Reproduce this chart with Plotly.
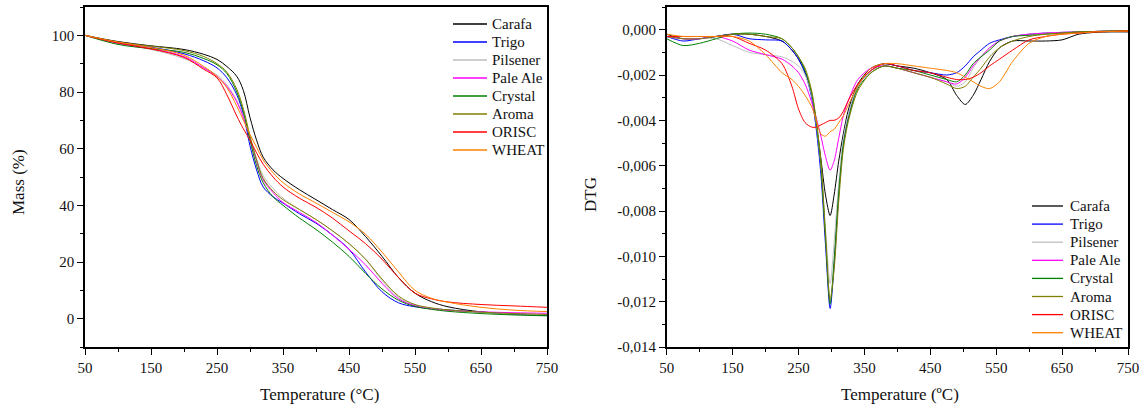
import plotly.graph_objects as go

# ---- series ----
series_names = ["Carafa", "Trigo", "Pilsener", "Pale Ale", "Crystal", "Aroma", "ORISC", "WHEAT"]
series_colors = ["#000000", "#0000FF", "#BEBEBE", "#FF00FF", "#008000", "#808000", "#FF0000", "#FF8000"]

# ---- TGA: mass (%) vs temperature (°C) ----
temp_tga = [50, 100, 150, 200, 230, 250, 265, 280, 290, 300, 310, 320, 335, 350, 375,
            400, 425, 450, 475, 500, 525, 550, 575, 600, 650, 700, 750]
mass_carafa = [100, 97.8, 96.3, 95.0, 93.3, 91.5, 89.0, 85.5, 80.5, 71.0, 63.0, 57.0, 52.5, 49.5, 45.5,
               42.0, 38.5, 35.0, 29.0, 22.0, 14.5, 9.0, 6.0, 4.2, 2.4, 1.6, 1.2]
mass_trigo = [100, 97.3, 95.8, 93.5, 91.0, 88.5, 85.0, 79.0, 72.0, 61.0, 52.5, 46.5, 43.0, 40.8, 37.0,
              33.7, 29.5, 24.5, 16.5, 9.5, 5.6, 4.2, 3.6, 3.1, 2.3, 1.7, 1.3]
mass_pilsener = [100, 97.0, 95.0, 91.8, 88.5, 86.0, 82.5, 77.0, 71.5, 64.0, 56.5, 50.5, 46.0, 42.5, 38.5,
                 35.0, 31.0, 26.5, 21.0, 13.5, 7.5, 4.8, 3.6, 3.0, 2.2, 1.7, 1.4]
mass_pale_ale = [100, 97.2, 95.3, 92.5, 88.5, 85.5, 82.0, 76.5, 71.0, 63.5, 55.5, 49.0, 44.5, 41.0, 37.5,
                 34.0, 29.5, 24.5, 19.0, 12.5, 7.0, 4.6, 3.4, 2.9, 2.4, 2.1, 1.9]
mass_crystal = [100, 96.8, 95.3, 94.0, 91.8, 89.6, 86.5, 80.0, 73.0, 63.0, 54.0, 48.0, 43.0, 40.0, 35.5,
                31.5, 27.0, 22.0, 16.0, 10.5, 6.5, 4.3, 3.3, 2.6, 1.8, 1.3, 1.0]
mass_aroma = [100, 97.6, 96.2, 94.6, 92.5, 90.0, 87.0, 81.0, 74.0, 64.5, 56.0, 49.5, 45.0, 42.0, 38.5,
              35.0, 31.0, 26.5, 21.0, 14.0, 8.0, 5.0, 3.8, 3.1, 2.3, 1.8, 1.5]
mass_orisc = [100, 97.3, 95.2, 92.2, 88.0, 85.0, 79.0, 71.5, 67.0, 63.0, 58.5, 54.5, 50.0, 46.5, 42.5,
              39.3, 35.5, 31.0, 26.5, 21.0, 14.5, 9.0, 7.0, 5.9, 5.0, 4.5, 4.0]
mass_wheat = [100, 97.6, 95.7, 93.0, 89.0, 85.5, 81.5, 75.0, 70.0, 65.0, 60.5, 56.0, 51.5, 48.0, 44.0,
              40.8, 37.5, 34.2, 29.8, 23.5, 16.5, 10.0, 7.2, 5.8, 4.0, 3.0, 2.5]

# ---- DTG vs temperature (°C) ----
temp_dtg = [50, 75, 100, 125, 150, 175, 200, 225, 240, 250, 260, 270, 277, 284, 291, 298, 304, 311,
            318, 326, 340, 360, 380, 400, 425, 450, 475, 490, 503, 515, 527, 540, 555, 575, 600,
            625, 650, 675, 700, 725, 750]
dtg_carafa = [-0.0002, -0.0004, -0.0004, -0.0003, -0.0002, -0.0002, -0.0003, -0.0005, -0.0009, -0.0013,
              -0.0019, -0.0029, -0.0042, -0.0057, -0.0073, -0.0082, -0.0073, -0.0058, -0.0046, -0.0035,
              -0.0024, -0.0017, -0.0015, -0.0016, -0.0017, -0.0019, -0.0022, -0.0029, -0.0033, -0.0029,
              -0.0022, -0.0014, -0.0008, -0.0005, -0.0005, -0.0005, -0.00045, -0.0002, -0.00012, -0.0001,
              -0.0001]
dtg_trigo = [-0.0003, -0.0005, -0.0004, -0.0003, -0.0002, -0.0004, -0.00045, -0.0005, -0.0009, -0.0013,
             -0.0019, -0.0030, -0.0044, -0.0064, -0.0095, -0.0123, -0.0104, -0.0073, -0.0050, -0.0038,
             -0.0025, -0.0018, -0.0015, -0.0016, -0.0018, -0.0019, -0.0020, -0.0019, -0.0016, -0.0012,
             -0.0009, -0.0006, -0.00045, -0.0003, -0.0002, -0.00015, -0.00012, -0.0001, -0.00008, -0.00006,
             -0.00005]
dtg_pilsener = [-0.0003, -0.0004, -0.0004, -0.0004, -0.0007, -0.0010, -0.0011, -0.0012, -0.0014, -0.0016,
                -0.0020, -0.0029, -0.0042, -0.0060, -0.0088, -0.0112, -0.0094, -0.0068, -0.0048, -0.0037,
                -0.0025, -0.0018, -0.0016, -0.0017, -0.0019, -0.0021, -0.0023, -0.0025, -0.0023, -0.0017,
                -0.0012, -0.0008, -0.0005, -0.0003, -0.0002, -0.00015, -0.00012, -0.0001, -0.00008, -0.00006,
                -0.00005]
dtg_pale_ale = [-0.0003, -0.0004, -0.0004, -0.0003, -0.0005, -0.0009, -0.0011, -0.0013, -0.0016, -0.0019,
                -0.0024, -0.0032, -0.0039, -0.0047, -0.0056, -0.0062, -0.0058, -0.0048, -0.0038, -0.0031,
                -0.0022, -0.0017, -0.0016, -0.0017, -0.0019, -0.0021, -0.0023, -0.0024, -0.0021, -0.0016,
                -0.0012, -0.0008, -0.0005, -0.0003, -0.0002, -0.00015, -0.00012, -0.0001, -0.00008, -0.00006,
                -0.00005]
dtg_crystal = [-0.0004, -0.0007, -0.0006, -0.0004, -0.0002, -0.00015, -0.0002, -0.0004, -0.0008, -0.0012,
               -0.0018, -0.0028, -0.0041, -0.0060, -0.0092, -0.0121, -0.0102, -0.0072, -0.0051, -0.0039,
               -0.0026, -0.0019, -0.0016, -0.0017, -0.0018, -0.0020, -0.0022, -0.0023, -0.0020, -0.0015,
               -0.0012, -0.0009, -0.0005, -0.0003, -0.00025, -0.0002, -0.00015, -0.0001, -0.00008, -0.00006,
               -0.00005]
dtg_aroma = [-0.0003, -0.0004, -0.0004, -0.0003, -0.0002, -0.0002, -0.0003, -0.0004, -0.0008, -0.0012,
             -0.0017, -0.0027, -0.0040, -0.0058, -0.0090, -0.0119, -0.0106, -0.0076, -0.0053, -0.0040,
             -0.0027, -0.0019, -0.0016, -0.0017, -0.0019, -0.0021, -0.0024, -0.0026, -0.0025, -0.0021,
             -0.0017, -0.0012, -0.0008, -0.0005, -0.0003, -0.0002, -0.00015, -0.0001, -0.00008, -0.00006,
             -0.00005]
dtg_orisc = [-0.0003, -0.0003, -0.0003, -0.0003, -0.0003, -0.0006, -0.0009, -0.0015, -0.0025, -0.0035,
             -0.0041, -0.0043, -0.0043, -0.0042, -0.0041, -0.0040, -0.0040, -0.0039, -0.0036, -0.0031,
             -0.0024, -0.0018, -0.0015, -0.0016, -0.0018, -0.0019, -0.0021, -0.0022, -0.0022, -0.0021,
             -0.0019, -0.0016, -0.0013, -0.0009, -0.00045, -0.0003, -0.0002, -0.00015, -0.0001, -0.00008,
             -0.00006]
dtg_wheat = [-0.0002, -0.0003, -0.0003, -0.0003, -0.0003, -0.0005, -0.0011, -0.0019, -0.0022, -0.0025,
             -0.0029, -0.0034, -0.0040, -0.0046, -0.0047, -0.0045, -0.0044, -0.0041, -0.0038, -0.0033,
             -0.0025, -0.0017, -0.0015, -0.0015, -0.0016, -0.0017, -0.0018, -0.0019, -0.0021, -0.0023,
             -0.0025, -0.0026, -0.0023, -0.0014, -0.0006, -0.0003, -0.0002, -0.00015, -0.0001, -0.00008,
             -0.00006]

# ---- tick labels ----
temp_ticks = [50, 150, 250, 350, 450, 550, 650, 750]
mass_ticks = [0, 20, 40, 60, 80, 100]
dtg_tickvals = [0.0, -0.002, -0.004, -0.006, -0.008, -0.010, -0.012, -0.014]
dtg_ticktext = ["0,000", "-0,002", "-0,004", "-0,006", "-0,008", "-0,010", "-0,012", "-0,014"]

mass_series = [mass_carafa, mass_trigo, mass_pilsener, mass_pale_ale,
               mass_crystal, mass_aroma, mass_orisc, mass_wheat]
dtg_series = [dtg_carafa, dtg_trigo, dtg_pilsener, dtg_pale_ale,
              dtg_crystal, dtg_aroma, dtg_orisc, dtg_wheat]

W, H = 1142, 407
FONT = "Liberation Serif"
INK = "#111111"

fig = go.Figure()

for name, color, ys in zip(series_names, series_colors, mass_series):
    fig.add_trace(go.Scatter(
        x=temp_tga, y=ys, name=name, mode="lines", showlegend=False,
        line=dict(color=color, width=1, shape="spline", smoothing=1.0),
        xaxis="x", yaxis="y"))

for name, color, ys in zip(series_names, series_colors, dtg_series):
    fig.add_trace(go.Scatter(
        x=temp_dtg, y=ys, name=name, mode="lines", showlegend=False,
        line=dict(color=color, width=1, shape="spline", smoothing=0.8),
        xaxis="x2", yaxis="y2"))


# pixel -> paper helpers
def px(x):
    return x / W


def py(y):
    return 1 - y / H


axis_common = dict(
    showline=True, linecolor="black", linewidth=1.5, mirror=True,
    ticks="outside", ticklen=6, tickwidth=1.2, tickcolor="black",
    showgrid=False, zeroline=False, automargin=False,
    tickfont=dict(family=FONT, size=15, color=INK),
)
minor_common = dict(ticklen=3, tickwidth=1.2, tickcolor="black", ticks="outside")

annotations = [
    dict(text="Mass (%)", x=px(18), y=py(182), textangle=-90),
    dict(text="Temperature (°C)", x=px(319), y=py(394)),
    dict(text="DTG", x=px(590), y=py(195), textangle=-90),
    dict(text="Temperature (ºC)", x=px(900), y=py(394)),
]
for a in annotations:
    a.update(xref="paper", yref="paper", showarrow=False, xanchor="center", yanchor="middle",
             font=dict(family=FONT, size=17, color=INK))

# in-plot legends: a short line sample followed by the series name
shapes = []
legend_blocks = [
    dict(x0=453, x1=487, xt=490, y0=24, dy=18.0),    # TGA panel, upper right
    dict(x0=1032, x1=1063, xt=1068, y0=206, dy=18.1),  # DTG panel, lower right
]
for blk in legend_blocks:
    for i, (name, color) in enumerate(zip(series_names, series_colors)):
        yy = blk["y0"] + i * blk["dy"]
        shapes.append(dict(type="line", xref="paper", yref="paper",
                           x0=px(blk["x0"]), x1=px(blk["x1"]), y0=py(yy), y1=py(yy),
                           line=dict(color=color, width=1.3)))
        annotations.append(dict(text=name, x=px(blk["xt"]), y=py(yy), xref="paper", yref="paper",
                                showarrow=False, xanchor="left", yanchor="middle",
                                font=dict(family=FONT, size=15, color=INK)))

fig.update_layout(
    width=W, height=H,
    margin=dict(l=0, r=0, t=0, b=0),
    paper_bgcolor="white", plot_bgcolor="white",
    font=dict(family=FONT, color=INK),
    showlegend=False,
    xaxis=dict(domain=[px(85), px(547)], range=[50, 750], anchor="y",
               tickmode="array", tickvals=temp_ticks,
               minor=dict(dtick=50, tick0=50, **minor_common), **axis_common),
    yaxis=dict(domain=[py(347), py(7)], range=[-10, 110], anchor="x",
               tickmode="array", tickvals=mass_ticks,
               minor=dict(dtick=10, tick0=0, **minor_common), **axis_common),
    xaxis2=dict(domain=[px(666.7), px(1128)], range=[50, 750], anchor="y2",
                tickmode="array", tickvals=temp_ticks,
                minor=dict(dtick=50, tick0=50, **minor_common), **axis_common),
    yaxis2=dict(domain=[py(347), py(7)], range=[-0.014, 0.001], anchor="x2",
                tickmode="array", tickvals=dtg_tickvals, ticktext=dtg_ticktext,
                minor=dict(dtick=0.001, tick0=0, **minor_common), **axis_common),
    shapes=shapes,
    annotations=annotations,
)

fig.write_html("out.html")
